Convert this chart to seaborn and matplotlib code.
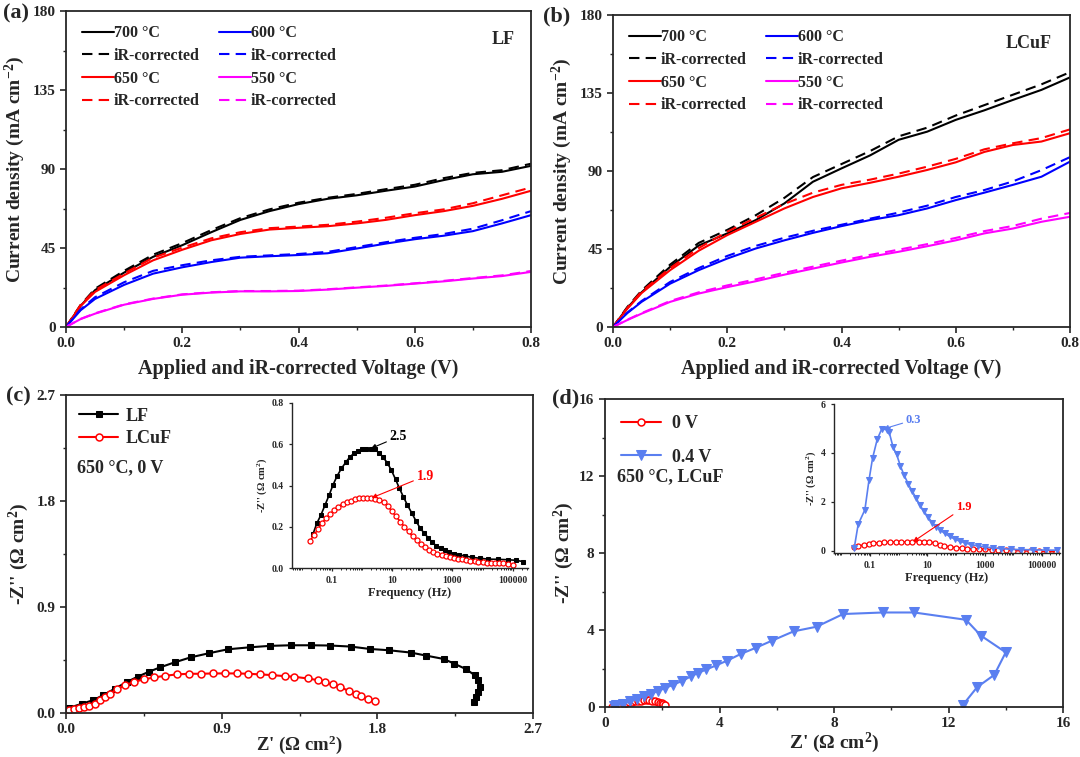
import matplotlib
matplotlib.use("Agg")
import matplotlib.pyplot as plt
import seaborn as sns
import numpy as np
from matplotlib.ticker import MultipleLocator, FixedLocator, FixedFormatter, LogLocator, NullFormatter

# ---------------- datos ----------------
volt = [0, 0.025, 0.05, 0.1, 0.15, 0.2, 0.25, 0.3, 0.35, 0.4, 0.45, 0.5, 0.55, 0.6, 0.65, 0.7, 0.75, 0.8]

# (a) LF
lf_700 = [0, 12, 21, 31, 40, 46.6, 54, 61, 66, 70, 73, 75, 77.6, 80, 83.7, 87, 88.4, 91.8]
lf_700_ir = [0, 12.5, 21.8, 32, 41.2, 47.8, 55.2, 62, 67, 70.8, 73.6, 75.8, 78.5, 81, 84.8, 87.8, 89.3, 93]
lf_650 = [0, 12, 20, 29.5, 38, 44, 49.4, 53, 55.5, 56.5, 57.4, 59, 61, 63.7, 66, 69, 73, 77.6]
lf_650_ir = [0, 12.5, 21, 30.5, 39.5, 45.2, 50.5, 54, 56.3, 57.2, 58.2, 60, 62.2, 64.8, 67, 70.5, 75, 79.5]
lf_600 = [0, 9.5, 16, 24, 30.4, 34, 37, 39.5, 40.3, 41, 42, 44.7, 47.5, 50, 52, 54.6, 59, 63.7]
lf_600_ir = [0, 10, 17, 25.5, 32, 35.2, 38, 40, 40.8, 41.6, 42.8, 45.5, 48.3, 50.8, 53, 56, 60.8, 66]
lf_550 = [0, 4.5, 7.6, 12.7, 16, 18.4, 19.6, 20.3, 20.3, 20.5, 21.3, 22.4, 23.4, 24.7, 26, 27.6, 29, 31.4]
lf_550_ir = [0, 4.6, 7.8, 12.9, 16.2, 18.6, 19.8, 20.5, 20.5, 20.7, 21.5, 22.6, 23.6, 24.9, 26.3, 27.9, 29.4, 31.9]

# (b) LCuF
cu_700 = [0, 11, 20, 34.7, 47, 54, 61.7, 71.3, 83.8, 91.5, 99, 108, 112.7, 119.5, 125, 131, 136.8, 144]
cu_700_ir = [0, 11.5, 21, 36, 48.5, 56, 64.5, 74.5, 86.5, 94, 101.5, 110, 115, 122, 128, 134, 140, 147]
cu_650 = [0, 10.5, 19.6, 32.8, 44, 53, 60.7, 68.4, 75, 80, 83.2, 86.7, 90.6, 95, 101, 105, 107, 111.8]
cu_650_ir = [0, 11, 20.5, 34, 45.5, 55, 63, 71, 77.5, 82, 85, 88.5, 92.5, 97, 102.5, 106, 109, 114]
cu_600 = [0, 8, 14.5, 25, 32.8, 39.5, 45.3, 50, 54.3, 58.2, 61.7, 64.5, 68.4, 73.2, 77.5, 82, 86.7, 95.4]
cu_600_ir = [0, 8.3, 15, 26, 34, 41, 46.8, 51.5, 55.5, 59, 62.5, 66, 70, 75, 79, 84, 90.5, 98]
cu_550 = [0, 4, 7.7, 14.5, 19.3, 23, 26.4, 30.2, 33.7, 37.2, 40.5, 43.4, 46.6, 50, 54, 56.8, 60.7, 63.6]
cu_550_ir = [0, 4.2, 8, 15, 20, 24, 27.5, 31.3, 34.8, 38.3, 41.6, 44.6, 47.8, 51.4, 55.3, 58.3, 62.5, 65.8]

# (c) Nyquist 650 C, 0 V
lf_zr = [0.016, 0.095, 0.155, 0.215, 0.284, 0.354, 0.414, 0.479, 0.543, 0.628, 0.722, 0.825, 0.936, 1.064,
         1.179, 1.298, 1.417, 1.527, 1.646, 1.755, 1.865, 1.994, 2.083, 2.183, 2.243, 2.312, 2.362, 2.382,
         2.392, 2.382, 2.372, 2.358]
lf_zi = [0.043, 0.08, 0.108, 0.151, 0.208, 0.265, 0.308, 0.35, 0.387, 0.43, 0.473, 0.507, 0.541, 0.558,
         0.57, 0.575, 0.575, 0.573, 0.564, 0.544, 0.533, 0.513, 0.487, 0.459, 0.42, 0.373, 0.322, 0.279,
         0.222, 0.18, 0.137, 0.094]
cu_zr = [0.016, 0.046, 0.076, 0.105, 0.135, 0.165, 0.195, 0.225, 0.254, 0.294, 0.344, 0.394, 0.449, 0.509,
         0.573, 0.642, 0.712, 0.781, 0.851, 0.92, 0.99, 1.054, 1.119, 1.189, 1.264, 1.318, 1.398, 1.457,
         1.497, 1.543, 1.586, 1.636, 1.676, 1.706, 1.746, 1.785]
cu_zi = [0.023, 0.037, 0.046, 0.051, 0.06, 0.08, 0.108, 0.137, 0.165, 0.202, 0.236, 0.265, 0.285, 0.302,
         0.316, 0.328, 0.333, 0.333, 0.336, 0.336, 0.336, 0.333, 0.328, 0.322, 0.313, 0.308, 0.293, 0.279,
         0.259, 0.242, 0.222, 0.185, 0.165, 0.142, 0.117, 0.103]

# (c) inset: Bode
lf_freq = [0.024, 0.032, 0.044, 0.06, 0.082, 0.11, 0.15, 0.21, 0.3, 0.4, 0.55, 0.75, 1.04, 1.4, 1.95, 2.65,
           3.6, 4.9, 6.9, 9.4, 13, 17.5, 23.5, 32, 45, 61, 83, 115, 160, 215, 290, 405, 560, 760, 1100, 1600,
           2700, 4400, 8300, 15500, 33000, 71000, 132000, 220000]
lf_bode = [0.166, 0.217, 0.258, 0.306, 0.354, 0.403, 0.446, 0.483, 0.515, 0.539, 0.556, 0.568, 0.575, 0.578,
           0.578, 0.575, 0.56, 0.539, 0.51, 0.475, 0.43, 0.386, 0.346, 0.306, 0.266, 0.23, 0.196, 0.169, 0.145,
           0.124, 0.108, 0.095, 0.085, 0.077, 0.069, 0.064, 0.058, 0.052, 0.047, 0.043, 0.042, 0.04, 0.037, 0.031]
cu_freq = [0.0186, 0.025, 0.035, 0.047, 0.065, 0.089, 0.123, 0.166, 0.23, 0.31, 0.43, 0.59, 0.81, 1.1, 1.5,
           2.05, 2.8, 3.8, 5.3, 7.2, 10, 13.5, 18.7, 25, 35, 48, 66, 89, 123, 166, 232, 316, 440, 590, 810,
           1100, 1550, 2100, 2900, 3900, 5400, 7300, 10000, 13800, 19000, 26000, 35000, 48000, 67000, 103000]
cu_bode = [0.129, 0.158, 0.188, 0.217, 0.242, 0.262, 0.282, 0.298, 0.311, 0.319, 0.327, 0.333, 0.337, 0.338,
           0.338, 0.337, 0.335, 0.33, 0.319, 0.301, 0.274, 0.25, 0.225, 0.201, 0.177, 0.153, 0.134, 0.116,
           0.101, 0.089, 0.077, 0.069, 0.061, 0.056, 0.052, 0.048, 0.045, 0.043, 0.04, 0.035, 0.032, 0.029,
           0.027, 0.026, 0.026, 0.024, 0.024, 0.023, 0.019, 0.014]

# (d) Nyquist LCuF 650 C, 0 V e 0.4 V
v0_zr = [0.25, 0.35, 0.45, 0.55, 0.65, 0.75, 0.85, 0.95, 1.05, 1.15, 1.25, 1.35, 1.45, 1.55, 1.65, 1.75,
         1.85, 1.92, 1.98, 2.04, 2.08]
v0_zi = [0.0, 0.04, 0.08, 0.12, 0.16, 0.2, 0.24, 0.27, 0.3, 0.32, 0.33, 0.34, 0.34, 0.34, 0.33, 0.31,
         0.27, 0.23, 0.19, 0.15, 0.11]
v4_zr = [0.3, 0.4, 0.64, 0.88, 1.12, 1.37, 1.61, 1.85, 2.09, 2.39, 2.7, 3.0, 3.24, 3.54, 3.88, 4.27, 4.75,
         5.26, 5.84, 6.59, 7.39, 8.32, 9.71, 10.8, 12.61, 13.13, 14.0, 13.6, 13.0, 12.51]
v4_zi = [0.03, 0.09, 0.17, 0.29, 0.43, 0.55, 0.69, 0.83, 0.98, 1.16, 1.36, 1.59, 1.76, 1.95, 2.16, 2.41,
         2.76, 3.07, 3.45, 3.93, 4.17, 4.83, 4.91, 4.91, 4.53, 3.71, 2.84, 1.67, 1.03, 0.12]

# (d) inset
v4_freq = [0.0285, 0.039, 0.067, 0.093, 0.124, 0.18, 0.26, 0.40, 0.47, 0.65, 0.85, 1.17, 1.55, 2.15, 2.96,
           4.0, 5.5, 7.6, 10.7, 15, 21, 29, 41, 61, 91, 135, 214, 345, 590, 1000, 1950, 3800, 8500, 19000,
           48000, 140000, 350000]
v4_bode = [0.11, 1.07, 1.67, 2.88, 3.78, 4.55, 4.98, 4.95, 4.85, 4.22, 3.95, 3.45, 3.1, 2.74, 2.44, 2.17,
           1.87, 1.61, 1.37, 1.14, 0.96, 0.83, 0.7, 0.58, 0.47, 0.39, 0.31, 0.24, 0.19, 0.15, 0.11, 0.08, 0.05,
           0.04, 0.03, 0.02, 0.015]
v0_freq = [0.0285, 0.04, 0.06, 0.09, 0.13, 0.2, 0.3, 0.5, 0.8, 1.2, 2, 3, 5, 8, 12, 18, 27, 40, 60, 100,
           160, 250, 400, 650, 1000, 1800, 3000, 5500, 10000, 20000, 40000, 80000, 150000, 300000]
v0_bode = [0.13, 0.18, 0.23, 0.27, 0.30, 0.32, 0.33, 0.34, 0.35, 0.35, 0.35, 0.35, 0.36, 0.37, 0.36, 0.31,
           0.24, 0.19, 0.15, 0.12, 0.1, 0.08, 0.07, 0.06, 0.05, 0.04, 0.03, 0.02, 0.0, -0.01, -0.02, -0.03,
           -0.04, -0.05]

# ---------------- estilo ----------------
sns.set_style("ticks")
plt.rcParams['font.family'] = ['Liberation Serif', 'DejaVu Serif']
plt.rcParams['font.weight'] = 'bold'
plt.rcParams['axes.labelweight'] = 'bold'
plt.rcParams['mathtext.default'] = 'regular'
plt.rcParams['axes.linewidth'] = 1.3
plt.rcParams['xtick.major.width'] = 1.2
plt.rcParams['ytick.major.width'] = 1.2
plt.rcParams['xtick.minor.width'] = 1.0
plt.rcParams['ytick.minor.width'] = 1.0
plt.rcParams['xtick.major.size'] = 4
plt.rcParams['ytick.major.size'] = 4
plt.rcParams['xtick.minor.size'] = 2.5
plt.rcParams['ytick.minor.size'] = 2.5

W, H = 1080, 757
fig = plt.figure(figsize=(W / 100, H / 100), dpi=100)


def caixa(l, r, t, b):
    return [l / W, 1 - b / H, (r - l) / W, (b - t) / H]


ax_a = fig.add_axes(caixa(66, 531, 11, 327))
ax_b = fig.add_axes(caixa(613, 1070, 15, 327))
ax_c = fig.add_axes(caixa(66, 533, 395, 713))
ax_d = fig.add_axes(caixa(605, 1063, 399, 707))
ins_c = fig.add_axes(caixa(292, 528, 403, 568))
ins_d = fig.add_axes(caixa(834, 1060, 404, 553))

cores = {"700": "black", "650": "red", "600": "blue", "550": "magenta"}


def painel_jv(ax, series, nome, xnome):
    for temp, sol, ir in series:
        sns.lineplot(x=volt, y=sol, ax=ax, color=cores[temp], lw=1.5, label=f"{temp} °C", sort=False,
                     estimator=None)
        sns.lineplot(x=volt, y=ir, ax=ax, color=cores[temp], lw=1.5, linestyle=(0, (5, 3)),
                     label="iR-corrected", sort=False, estimator=None)
    ax.set_xlim(0, 0.8)
    ax.set_ylim(0, 180)
    ax.set_xticks([0, 0.2, 0.4, 0.6, 0.8])
    ax.set_xticklabels(["0.0", "0.2", "0.4", "0.6", "0.8"])
    ax.set_yticks([0, 45, 90, 135, 180])
    ax.set_yticklabels(["0", "45", "90", "135", "180"])
    ax.xaxis.set_minor_locator(MultipleLocator(0.1))
    ax.yaxis.set_minor_locator(MultipleLocator(22.5))
    ax.tick_params(labelsize=11)
    ax.set_xlabel("Applied and iR-corrected Voltage (V)", fontsize=14.5, labelpad=6)
    ax.set_ylabel("Current density (mA cm$^{-2}$)", fontsize=14, labelpad=4)
    h, l = ax.get_legend_handles_labels()
    ax.legend(h, l, ncol=2, loc="upper left", frameon=False, fontsize=11.5, handlelength=2.0,
              handletextpad=0.0, columnspacing=1.2, labelspacing=0.42, borderaxespad=0.3,
              bbox_to_anchor=(0.01, 0.99))
    ax.text(xnome, 0.91, nome, transform=ax.transAxes, fontsize=13, ha="center", va="center")


painel_jv(ax_a, [("700", lf_700, lf_700_ir), ("650", lf_650, lf_650_ir),
                 ("600", lf_600, lf_600_ir), ("550", lf_550, lf_550_ir)], "LF", 0.94)
painel_jv(ax_b, [("700", cu_700, cu_700_ir), ("650", cu_650, cu_650_ir),
                 ("600", cu_600, cu_600_ir), ("550", cu_550, cu_550_ir)], "LCuF", 0.91)

# (c)
sns.lineplot(x=lf_zr, y=lf_zi, ax=ax_c, sort=False, estimator=None, color="black", lw=1.5,
             marker="s", markersize=5, markeredgecolor="black", markerfacecolor="black", label="LF")
sns.lineplot(x=cu_zr, y=cu_zi, ax=ax_c, sort=False, estimator=None, color="red", lw=1.5,
             marker="o", markersize=5, markeredgecolor="red", markerfacecolor="white",
             markeredgewidth=1.1, label="LCuF")
ax_c.set_xlim(0, 2.7)
ax_c.set_ylim(0, 2.7)
ax_c.set_xticks([0, 0.9, 1.8, 2.7])
ax_c.set_xticklabels(["0.0", "0.9", "1.8", "2.7"])
ax_c.set_yticks([0, 0.9, 1.8, 2.7])
ax_c.set_yticklabels(["0.0", "0.9", "1.8", "2.7"])
ax_c.xaxis.set_minor_locator(MultipleLocator(0.45))
ax_c.yaxis.set_minor_locator(MultipleLocator(0.45))
ax_c.tick_params(labelsize=11)
ax_c.set_xlabel("Z' (Ω cm$^{2}$)", fontsize=13.5, labelpad=-2)
ax_c.set_ylabel("-Z'' (Ω cm$^{2}$)", fontsize=14, labelpad=4)
ax_c.legend(loc="upper left", frameon=False, fontsize=13, handlelength=2.2, handletextpad=0.4,
            labelspacing=0.3, borderaxespad=0.3)
ax_c.text(0.024, 0.772, "650 °C, 0 V", transform=ax_c.transAxes, fontsize=13, va="center")

# (d)
azul = "#5a7ff0"
sns.lineplot(x=v0_zr, y=v0_zi, ax=ax_d, sort=False, estimator=None, color="red", lw=1.5,
             marker="o", markersize=5, markeredgecolor="red", markerfacecolor="white",
             markeredgewidth=1.1, label="0 V")
sns.lineplot(x=v4_zr, y=v4_zi, ax=ax_d, sort=False, estimator=None, color=azul, lw=1.5,
             marker="v", markersize=7, markeredgecolor=azul, markerfacecolor=azul, label="0.4 V")
ax_d.set_xlim(0, 16)
ax_d.set_ylim(0, 16)
ax_d.set_xticks([0, 4, 8, 12, 16])
ax_d.set_yticks([0, 4, 8, 12, 16])
ax_d.xaxis.set_minor_locator(MultipleLocator(2))
ax_d.yaxis.set_minor_locator(MultipleLocator(2))
ax_d.tick_params(labelsize=11)
ax_d.set_xlabel("Z' (Ω cm$^{2}$)", fontsize=14, labelpad=0)
ax_d.set_ylabel("-Z'' (Ω cm$^{2}$)", fontsize=14, labelpad=2)
ax_d.legend(loc="upper left", frameon=False, fontsize=13, handlelength=2.2, handletextpad=0.6,
            labelspacing=0.9, borderaxespad=0.5)
ax_d.text(0.026, 0.749, "650 °C, LCuF", transform=ax_d.transAxes, fontsize=13, va="center")


def inset_bode(ax, xlim, ylim, yticks, ylabels):
    ax.set_xscale("log")
    ax.set_xlim(*xlim)
    ax.set_ylim(*ylim)
    ax.xaxis.set_major_locator(FixedLocator([0.1, 10, 1000, 100000]))
    ax.xaxis.set_major_formatter(FixedFormatter(["0.1", "10", "1000", "100000"]))
    ax.xaxis.set_minor_locator(LogLocator(base=10, subs=np.arange(1, 10), numticks=20))
    ax.xaxis.set_minor_formatter(NullFormatter())
    ax.set_yticks(yticks)
    ax.set_yticklabels(ylabels)
    ax.tick_params(labelsize=7, length=2.5, width=0.9)
    ax.tick_params(which="minor", length=1.5, width=0.7)
    for s in ["top", "right"]:
        ax.spines[s].set_visible(False)
    for s in ["left", "bottom"]:
        ax.spines[s].set_linewidth(1.0)
    ax.patch.set_alpha(0)
    ax.set_xlabel("Frequency (Hz)", fontsize=9, labelpad=1)
    ax.set_ylabel("-Z'' (Ω cm$^{2}$)", fontsize=7.5, labelpad=2)


sns.lineplot(x=lf_freq, y=lf_bode, ax=ins_c, sort=False, estimator=None, color="black", lw=1.2,
             marker="s", markersize=3.2, markeredgecolor="black", markerfacecolor="black")
sns.lineplot(x=cu_freq, y=cu_bode, ax=ins_c, sort=False, estimator=None, color="red", lw=1.2,
             marker="o", markersize=3.6, markeredgecolor="red", markerfacecolor="white", markeredgewidth=0.9)
inset_bode(ins_c, (0.0048, 3.2e5), (0, 0.8), [0, 0.2, 0.4, 0.6, 0.8], ["0.0", "0.2", "0.4", "0.6", "0.8"])
ins_c.annotate("2.5", xy=(2.0, 0.58), xytext=(8.3, 0.636), fontsize=10, color="black", va="center",
               arrowprops=dict(arrowstyle="-|>", color="black", lw=0.8, mutation_scale=7, shrinkA=0, shrinkB=0))
ins_c.annotate("1.9", xy=(2.1, 0.34), xytext=(65, 0.446), fontsize=10, color="red", va="center",
               arrowprops=dict(arrowstyle="-|>", color="red", lw=0.8, mutation_scale=7, shrinkA=0, shrinkB=0))

sns.lineplot(x=v0_freq, y=v0_bode, ax=ins_d, sort=False, estimator=None, color="red", lw=1.2,
             marker="o", markersize=3.6, markeredgecolor="red", markerfacecolor="white", markeredgewidth=0.9)
sns.lineplot(x=v4_freq, y=v4_bode, ax=ins_d, sort=False, estimator=None, color=azul, lw=1.2,
             marker="v", markersize=4.5, markeredgecolor=azul, markerfacecolor=azul)
inset_bode(ins_d, (0.0056, 4.3e5), (-0.1, 6), [0, 2, 4, 6], ["0", "2", "4", "6"])
ins_d.annotate("0.3", xy=(0.3, 4.98), xytext=(1.8, 5.35), fontsize=9, color=azul, va="center",
               arrowprops=dict(arrowstyle="-|>", color=azul, lw=0.8, mutation_scale=7, shrinkA=0, shrinkB=0))
ins_d.annotate("1.9", xy=(3.2, 0.36), xytext=(103, 1.77), fontsize=9, color="red", va="center",
               arrowprops=dict(arrowstyle="-|>", color="red", lw=0.8, mutation_scale=7, shrinkA=0, shrinkB=0))

# rótulos dos painéis
fig.text(3 / W, 1 - 13 / H, "(a)", fontsize=16, va="center", ha="left")
fig.text(543 / W, 1 - 16 / H, "(b)", fontsize=16, va="center", ha="left")
fig.text(6 / W, 1 - 396 / H, "(c)", fontsize=16, va="center", ha="left")
fig.text(552 / W, 1 - 398 / H, "(d)", fontsize=16, va="center", ha="left")

fig.savefig("out.png", dpi=100)
